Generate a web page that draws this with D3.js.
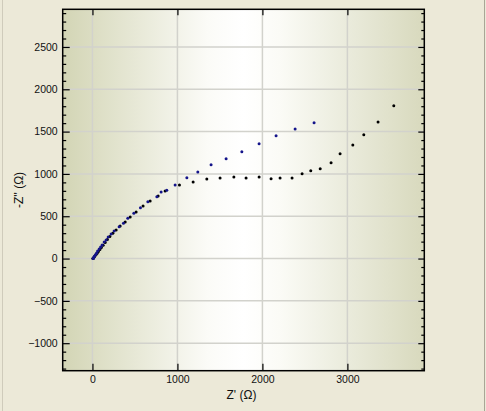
<!DOCTYPE html>
<html>
<head>
<meta charset="utf-8">
<script src="https://cdn.jsdelivr.net/npm/d3@7"></script>
<style>
  html, body { margin: 0; padding: 0; background: #ece9d8; }
  svg { display: block; }
</style>
</head>
<body>
<script>
// Nyquist data: Z' (ohm) vs -Z'' (ohm)
const blueZre = [8, 12, 18, 26, 38, 49, 61, 79, 96, 114, 138, 161, 185, 220, 255, 314, 365, 416, 487, 565, 652, 758, 808, 875, 973, 1111, 1240, 1396, 1573, 1758, 1961, 2161, 2385, 2608];
const blueZim = [2, 6, 18, 30, 47, 65, 89, 112, 136, 160, 195, 219, 254, 290, 325, 376, 416, 475, 534, 600, 671, 730, 786, 806, 869, 955, 1022, 1109, 1180, 1262, 1357, 1452, 1531, 1605];

const blackZre = [5, 10, 15, 22, 31, 43, 55, 70, 88, 105, 126, 150, 176, 205, 240, 279, 326, 385, 444, 514, 596, 679, 773, 855, 1024, 1185, 1346, 1502, 1664, 1808, 1961, 2102, 2208, 2349, 2467, 2569, 2680, 2808, 2914, 3064, 3193, 3361, 3546];
const blackZim = [0, 4, 10, 20, 32, 48, 64, 84, 108, 130, 158, 190, 224, 262, 300, 337, 384, 431, 491, 550, 621, 680, 739, 798, 869, 904, 940, 952, 963, 952, 963, 943, 952, 952, 1002, 1038, 1061, 1132, 1239, 1342, 1463, 1613, 1806];

const xTicks = [0, 1000, 2000, 3000];
const yTicks = [-1000, -500, 0, 500, 1000, 1500, 2000, 2500];
const yMinor = [-1300, -1200, -1100, -900, -800, -700, -600, -400, -300, -200, -100, 100, 200, 300, 400, 600, 700, 800, 900, 1100, 1200, 1300, 1400, 1600, 1700, 1800, 1900, 2100, 2200, 2300, 2400, 2600, 2700, 2800, 2900];

const width = 486, height = 411;
const plot = { left: 62.7, top: 9.3, right: 424.3, bottom: 370.7 };

const svg = d3.select("body").append("svg")
    .attr("width", width)
    .attr("height", height);

svg.append("rect")
    .attr("width", width)
    .attr("height", height)
    .attr("fill", "#ece9d8");

// thin window border lines
svg.append("line").attr("x1", 2.5).attr("x2", 2.5).attr("y1", 0).attr("y2", height)
    .attr("stroke", "#cfcbbb");
svg.append("line").attr("x1", 484.5).attr("x2", 484.5).attr("y1", 0).attr("y2", height)
    .attr("stroke", "#a9a696");

const x = d3.scaleLinear().domain([-350, 3905]).range([plot.left, plot.right]);
const y = d3.scaleLinear().domain([-1325, 2945]).range([plot.bottom, plot.top]);

const grad = svg.append("defs").append("linearGradient")
    .attr("id", "bg").attr("x1", "0%").attr("x2", "100%").attr("y1", "0%").attr("y2", "0%");
[["0%", "#d3d5b5"], ["20%", "#e7e8d6"], ["40%", "#fbfbf7"], ["50%", "#ffffff"], ["60%", "#fbfbf6"], ["80%", "#e9eada"], ["100%", "#d8d9bd"]]
    .forEach(([o, c]) => grad.append("stop").attr("offset", o).attr("stop-color", c));

svg.append("rect")
    .attr("x", plot.left).attr("y", plot.top)
    .attr("width", plot.right - plot.left)
    .attr("height", plot.bottom - plot.top)
    .attr("fill", "url(#bg)");

// grid
const grid = svg.append("g").attr("stroke", "#d2d2cc").attr("stroke-width", 1.5);
grid.selectAll("line.gx").data(xTicks).enter().append("line")
    .attr("x1", d => x(d)).attr("x2", d => x(d))
    .attr("y1", plot.top).attr("y2", plot.bottom);
grid.selectAll("line.gy").data(yTicks).enter().append("line")
    .attr("x1", plot.left).attr("x2", plot.right)
    .attr("y1", d => y(d)).attr("y2", d => y(d));

// axes, ticks pointing inward
const font = "'Liberation Sans', Arial, sans-serif";

function style(g) {
    g.select(".domain").remove();
    g.selectAll(".tick line").attr("stroke", "#000").attr("stroke-width", 1.2);
    g.selectAll("text").attr("fill", "#111").style("font-family", font).style("font-size", "10.5px");
}

svg.append("g").attr("transform", `translate(${plot.left},0)`)
    .call(d3.axisLeft(y).tickValues(yTicks).tickSize(-7).tickPadding(5).tickFormat(d3.format("d")))
    .call(style);
svg.append("g").attr("transform", `translate(${plot.left},0)`)
    .call(d3.axisLeft(y).tickValues(yMinor).tickSize(-3.5).tickFormat(""))
    .call(style);
svg.append("g").attr("transform", `translate(${plot.right},0)`)
    .call(d3.axisRight(y).tickValues(yTicks).tickSize(-6).tickFormat(""))
    .call(style);
svg.append("g").attr("transform", `translate(${plot.right},0)`)
    .call(d3.axisRight(y).tickValues(yMinor).tickSize(-3).tickFormat(""))
    .call(style);
svg.append("g").attr("transform", `translate(0,${plot.bottom})`)
    .call(d3.axisBottom(x).tickValues(xTicks).tickSize(-7).tickPadding(5).tickFormat(d3.format("d")))
    .call(style);
svg.append("g").attr("transform", `translate(0,${plot.top})`)
    .call(d3.axisTop(x).tickValues(xTicks).tickSize(-6).tickFormat(""))
    .call(style);

svg.append("rect")
    .attr("x", plot.left).attr("y", plot.top)
    .attr("width", plot.right - plot.left)
    .attr("height", plot.bottom - plot.top)
    .attr("fill", "none").attr("stroke", "#000").attr("stroke-width", 1.5);

// points
const blue = blueZre.map((d, i) => [d, blueZim[i]]);
const black = blackZre.map((d, i) => [d, blackZim[i]]);

svg.append("g").selectAll("circle").data(black).enter().append("circle")
    .attr("cx", d => x(d[0])).attr("cy", d => y(d[1])).attr("r", 1.5)
    .attr("fill", "#000");
svg.append("g").selectAll("circle").data(blue).enter().append("circle")
    .attr("cx", d => x(d[0])).attr("cy", d => y(d[1])).attr("r", 1.5)
    .attr("fill", "#14148a");

// axis titles
svg.append("text")
    .attr("x", (plot.left + plot.right) / 2 - 2).attr("y", 399)
    .attr("text-anchor", "middle")
    .style("font-family", font).style("font-size", "12px").attr("fill", "#111")
    .text("Z' (Ω)");

svg.append("text")
    .attr("transform", `translate(23,${(plot.top + plot.bottom) / 2}) rotate(-90)`)
    .attr("text-anchor", "middle")
    .style("font-family", font).style("font-size", "12px").attr("fill", "#111")
    .text("-Z'' (Ω)");
</script>
</body>
</html>
